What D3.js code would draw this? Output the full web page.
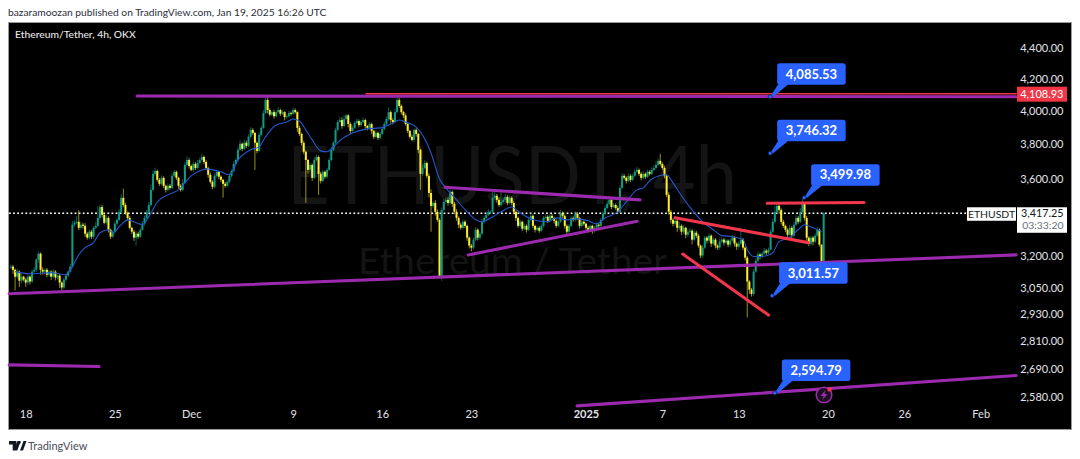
<!DOCTYPE html>
<html><head><meta charset="utf-8">
<script src="https://cdn.jsdelivr.net/npm/d3@7/dist/d3.min.js"></script>
<style>html,body{margin:0;padding:0;background:#fff}svg{display:block}text{font-family:Lato,sans-serif}</style>
</head><body><svg id="c" width="1080" height="459"></svg>
<script>
// ---- data ----
const firstBar = Date.UTC(2024,10,16,20);
const closes = [
3149,3134,3101,3125,3082,3101,3087,3073,3101,3078,3125,3134,3183,3212,3134,3125,3134,3110,3125,3101,3125,3097,3106,3073,
3050,3087,3106,3125,3149,3358,3368,3373,3342,3358,3352,3312,3292,3322,3297,3342,3352,3393,3450,3409,3368,3393,3332,3297,
3322,3363,3383,3425,3499,3461,3419,3393,3342,3322,3292,3312,3297,3332,3363,3393,3425,3461,3542,3630,3646,3597,3575,3608,
3564,3542,3564,3553,3619,3641,3608,3564,3542,3580,3680,3708,3674,3652,3685,3663,3691,3708,3725,3697,3663,3625,3586,3559,
3619,3641,3614,3597,3575,3564,3586,3619,3646,3685,3708,3766,3801,3772,3807,3789,3842,3883,3865,3807,3760,3853,3895,3985,
4065,4003,3975,3990,3965,3990,4003,3980,3990,3960,3965,3985,3980,4003,3990,3895,3859,3807,3755,3708,3652,3680,3608,3708,
3725,3630,3591,3641,3614,3652,3708,3766,3807,3883,3930,3942,3906,3948,3970,3918,3877,3895,3924,3936,3912,3930,3942,3906,
3895,3918,3877,3842,3865,3836,3859,3889,3918,3948,3990,3942,3930,3990,4065,4028,3990,3970,3918,3877,3842,3824,3883,3859,
3766,3630,3663,3691,3619,3525,3456,3472,3425,3383,3101,3435,3477,3488,3472,3531,3467,3425,3393,3358,3342,3373,3352,3292,
3252,3242,3282,3332,3292,3312,3373,3393,3409,3425,3425,3499,3510,3488,3461,3477,3488,3504,3472,3499,3472,3425,3393,3352,
3373,3337,3352,3332,3383,3404,3352,3332,3342,3327,3352,3393,3399,3378,3404,3393,3378,3352,3373,3419,3404,3352,3322,3352,
3393,3383,3414,3393,3352,3373,3363,3342,3332,3352,3327,3342,3358,3352,3383,3414,3445,3467,3488,3450,3461,3445,3425,3553,
3619,3608,3591,3619,3597,3619,3641,3652,3630,3608,3630,3614,3641,3630,3652,3663,3680,3703,3685,3663,3619,3515,3425,3383,
3363,3378,3342,3352,3322,3342,3307,3322,3327,3282,3317,3302,3252,3203,3242,3292,3277,3302,3262,3282,3252,3242,3272,3282,
3267,3277,3257,3277,3292,3262,3247,3262,3282,3242,3193,3078,3040,3020,3125,3178,3208,3198,3212,3227,3217,3232,3322,3373,
3425,3456,3435,3373,3352,3332,3307,3342,3302,3358,3393,3373,3425,3467,3393,3292,3262,3292,3272,3302,3332,3257,3144,3417.25];
const upperWicks = [
10,8,5,12,6,15,4,8,10,6,9,14,8,10,6,12,5,9,8,6,12,7,5,8,
6,10,9,6,14,20,12,30,60,16,10,14,8,12,9,10,20,60,14,12,10,16,8,6,
8,12,10,15,20,50,12,8,10,6,9,12,10,8,14,12,10,16,30,20,18,8,10,14,
9,6,14,10,16,10,8,6,10,20,16,20,12,8,14,10,18,12,20,8,10,6,12,8,
14,10,6,8,5,10,12,14,8,16,10,14,20,8,18,12,14,16,10,6,8,16,12,18,
17,14,10,8,14,10,18,8,12,6,10,14,8,16,10,6,12,8,10,8,6,12,8,16,
14,8,10,12,8,10,14,16,10,14,12,20,16,24,10,8,10,14,12,16,10,12,16,8,
6,12,8,6,14,8,12,10,16,14,30,10,12,20,30,14,10,8,12,8,6,14,8,10,
6,8,20,16,8,14,20,10,15,12,8,12,16,12,14,24,8,10,14,8,10,12,8,6,
6,8,10,14,8,10,14,10,12,16,8,32,20,10,14,70,12,16,10,12,8,10,6,8,
12,6,10,8,14,16,8,6,10,8,12,10,14,8,16,10,6,8,12,16,8,6,8,10,
12,8,14,10,6,10,8,6,10,8,6,10,12,8,10,14,12,16,20,8,10,8,12,14,
16,10,8,14,10,12,14,16,8,10,14,8,12,10,14,16,20,14,40,10,12,8,14,10,
8,14,10,20,8,14,6,12,14,8,16,10,8,6,14,10,8,12,6,10,8,6,12,10,
8,10,6,12,14,8,6,10,50,8,6,8,6,8,12,10,14,8,10,14,8,10,12,14,
30,20,10,8,10,6,8,14,10,16,14,10,20,33,8,10,6,10,8,12,14,6,0,5];
const lowerWicks = [
12,20,65,10,30,14,8,20,12,14,8,6,10,18,24,14,10,12,10,16,8,14,10,25,
20,8,10,6,8,5,10,8,12,10,14,16,10,8,12,10,6,8,10,14,8,10,14,12,
6,8,10,6,8,12,10,14,8,12,16,40,10,8,6,10,8,6,10,8,12,10,12,8,
12,14,8,10,6,8,12,16,10,8,6,10,14,8,10,12,6,8,10,14,12,16,10,14,
8,10,14,12,75,10,6,8,10,6,8,10,6,14,8,12,8,10,12,155,14,8,10,6,
8,20,12,10,14,8,6,14,8,20,10,8,12,6,10,24,12,16,14,236,20,12,18,6,
10,115,14,8,12,10,6,8,6,10,8,6,16,8,10,20,18,10,8,6,14,10,8,16,
14,8,18,14,8,12,10,6,8,6,10,20,14,8,6,12,14,16,10,12,10,8,14,16,
20,88,10,8,14,24,134,12,20,10,3,20,8,10,14,8,16,12,14,18,10,8,12,16,
14,18,8,6,14,10,6,8,10,6,12,8,10,14,10,8,6,10,12,8,12,14,16,10,
8,12,6,14,6,8,12,14,8,10,6,8,6,12,8,10,14,10,8,6,12,14,16,8,
6,10,8,12,14,8,10,12,14,8,16,10,6,10,8,6,8,6,8,12,6,10,12,6,
8,10,14,8,12,6,8,6,12,14,8,12,6,10,8,6,8,6,10,12,14,12,16,18,
14,10,20,12,16,10,18,12,8,24,8,12,10,12,14,8,14,10,16,8,14,12,10,8,
14,8,12,10,6,14,16,10,6,12,14,165,20,12,8,6,10,14,8,6,12,8,4,6,
8,10,20,14,10,12,18,8,14,8,6,12,6,10,14,16,12,10,18,8,6,10,0,0];
const maBars = [2,9,19,26,27,29,32,35,39,42,46,48,52,55,59,62,66,69,74,79,85,90,92,99,103,107,113,117,120,125,130,133,136,139,142,146,149,152,156,161,168,174,180,183,186,191,196,198,202,205,210,215,220,222,227,231,236,240,243,248,253,257,262,267,272,276,280,286,290,295,298,302,309,312,316,321,326,331,335,340,345,347,350,354,359,362,367,371,374,378,382];
const maValues = [3125,3115,3120,3110,3120,3149,3207,3242,3267,3317,3332,3317,3358,3383,3368,3358,3419,3477,3515,3542,3619,3652,3658,3641,3625,3708,3766,3783,3842,3912,3930,3948,3936,3883,3824,3760,3755,3783,3830,3865,3889,3895,3924,3942,3930,3900,3806,3748,3602,3553,3488,3425,3378,3373,3399,3425,3450,3419,3399,3378,3373,3393,3383,3388,3378,3363,3393,3425,3477,3542,3553,3602,3625,3580,3510,3435,3373,3332,3302,3297,3282,3232,3198,3198,3217,3272,3292,3332,3358,3342,3322];
const priceTicks = [4400,4200,4000,3800,3600,3200,3050,2930,2810,2690,2580];
const timeTickDates = [[2024,10,18],[2024,10,25],[2024,11,1],[2024,11,9],[2024,11,16],[2024,11,23],[2025,0,1],[2025,0,7],[2025,0,13],[2025,0,20],[2025,0,26],[2025,1,1]];
const timeTickLabels = ["18","25","Dec","9","16","23","2025","7","13","20","26","Feb"];
// trend lines: [bar, price, bar, price]
const purpleLines = [[59.5,4090,473.7,4085],[-0.8,3021,473.7,3206],[-0.8,2709,41.6,2702],[266.8,2544,473.7,2665],[204.6,3556,296.5,3488],[215.5,3206,295.1,3376]];
const redLines = [[313,3394,375.7,3267],[316.6,3210,357,2924],[356.4,3470,402,3474]];
const topRedLine = [167.4,4104,473.7,4104];
const calloutBars = [357.8,357.8,373.8,358.7,360];
const calloutPrices = [4085.53,3746.32,3499.98,3011.57,2594.79];
const lastPrice = 3417.25, alertPrice = 4108.93, countdown = "03:33:20";

// ---- scales ----
const barTime = n => new Date(firstBar + n*4*3600e3);
const x = d3.scaleUtc().domain([new Date(Date.UTC(2024,10,18)),new Date(Date.UTC(2025,1,1))]).range([25.7,980.7]);
const bx = n => x(barTime(n));
const y = d3.scaleLog().domain([4400,2580]).range([48.3,396.7]);

const svg = d3.select("#c");
svg.append("rect").attr("width",1080).attr("height",459).attr("fill","#fff");
svg.append("rect").attr("x",8.5).attr("y",22.5).attr("width",1063).attr("height",407).attr("fill","#000").attr("stroke","#9b9b9b").attr("stroke-width",1);

// header and footer
svg.append("text").attr("x",8).attr("y",16).attr("font-size",10.25).attr("fill","#2a2e39").text("bazaramoozan published on TradingView.com, Jan 19, 2025 16:26 UTC");
svg.append("text").attr("x",15).attr("y",38).attr("font-size",10.3).attr("font-weight",500).attr("fill","#e8e8e8").text("Ethereum/Tether, 4h, OKX");
svg.append("text").attr("x",28).attr("y",449.5).attr("font-size",11).attr("fill","#4a4e59").text("TradingView");
svg.append("path").attr("d","M9 441h7.4v9.6h-3.7v-6.1H9zM17.5 441l3.2 0 -3.4 9.6h-3.2zM23.5 441h3l-3.5 9.6h-3z").attr("fill","#131722");
svg.append("circle").attr("cx",19).attr("cy",442.6).attr("r",1.6).attr("fill","#131722");

// watermark
svg.append("text").attr("x",287).attr("y",204).attr("font-size",82).attr("fill","#141414").attr("textLength",450).attr("lengthAdjust","spacingAndGlyphs").text("ETHUSDT, 4h");
svg.append("text").attr("x",358).attr("y",274).attr("font-size",37).attr("fill","#141414").attr("textLength",309).attr("lengthAdjust","spacingAndGlyphs").text("Ethereum / Tether");

// last-price dotted line
svg.append("line").attr("x1",9).attr("x2",967).attr("y1",y(lastPrice)).attr("y2",y(lastPrice)).attr("stroke","#fff").attr("stroke-width",1.7).attr("stroke-dasharray","1.8 2.3");

// candles
const candles = closes.map((c,i)=>{const o=i?closes[i-1]:c;return {i,o,c,h:Math.max(o,c)+upperWicks[i],l:Math.min(o,c)-lowerWicks[i]};});
const col = d=>d.c>=d.o?"#0f9d88":"#ffee30";
const g = svg.append("g");
g.selectAll("line.w").data(candles).join("line").attr("class","w")
 .attr("x1",d=>bx(d.i)).attr("x2",d=>bx(d.i)).attr("y1",d=>y(d.h)).attr("y2",d=>y(d.l))
 .attr("stroke",col).attr("stroke-width",0.8).attr("stroke-opacity",0.75);
g.selectAll("rect.b").data(candles).join("rect").attr("class","b")
 .attr("x",d=>bx(d.i)-1).attr("width",2)
 .attr("y",d=>Math.min(y(d.o),y(d.c))).attr("height",d=>Math.max(0.8,Math.abs(y(d.o)-y(d.c))))
 .attr("fill",col);

// moving average
svg.append("path").datum(maBars.map((b,i)=>[b,maValues[i]]))
 .attr("d",d3.line().x(d=>bx(d[0])).y(d=>y(d[1])).curve(d3.curveMonotoneX))
 .attr("fill","none").attr("stroke","#2258cf").attr("stroke-width",1.1);

// trend lines
const drawLines=(arr,stroke,w)=>svg.append("g").selectAll("line").data(arr).join("line")
 .attr("x1",d=>bx(d[0])).attr("y1",d=>y(d[1])).attr("x2",d=>bx(d[2])).attr("y2",d=>y(d[3]))
 .attr("stroke",stroke).attr("stroke-width",w).attr("stroke-linecap","round");
drawLines(purpleLines,"#9c2aae",3.1);
drawLines(redLines,"#f2364c",3.1);
drawLines([topRedLine],"#f2364c",1.6);

// callouts
const fmt = d3.format(",.2f");
const co = svg.append("g").selectAll("g").data(calloutPrices).join("g")
 .attr("transform",(d,i)=>`translate(${bx(calloutBars[i])},${y(d)})`);
co.append("path").attr("d","M0 0L9 -14H20L3 0Z").attr("fill","#2962ff");
co.append("rect").attr("x",7).attr("y",-33.5).attr("width",68.5).attr("height",21.5).attr("rx",2.5).attr("fill","#2962ff");
co.append("circle").attr("r",2).attr("fill","#2962ff").attr("stroke","#111").attr("stroke-width",.6);
co.append("text").attr("x",41.3).attr("y",-18.2).attr("text-anchor","middle").attr("font-size",13).attr("font-weight",700).attr("fill","#fff").text(d=>fmt(d));

// axes
const xAxis = d3.axisBottom(x).tickValues(timeTickDates.map(d=>new Date(Date.UTC(d[0],d[1],d[2])))).tickFormat((d,i)=>timeTickLabels[i]).tickSize(0).tickPadding(0);
const xg = svg.append("g").attr("transform","translate(0,410)").call(xAxis);
xg.select(".domain").remove();
xg.selectAll("text").attr("font-size",11).attr("fill","#e0e3eb").attr("font-family","Lato,sans-serif").attr("font-weight",(d,i)=>timeTickLabels[i]==="2025"?700:400);
const yAxis = d3.axisLeft(y).tickValues(priceTicks).tickFormat(fmt).tickSize(0).tickPadding(0);
const yg = svg.append("g").attr("transform","translate(1063.5,0)").call(yAxis);
yg.select(".domain").remove();
yg.selectAll("text").attr("font-size",11).attr("fill","#e0e3eb").attr("font-family","Lato,sans-serif");

// price labels
const yA=y(alertPrice);
svg.append("rect").attr("x",1017).attr("y",yA-6.3).attr("width",50).attr("height",15).attr("fill","#f23645");
svg.append("text").attr("x",1063.5).attr("y",yA+5).attr("text-anchor","end").attr("font-size",11).attr("fill","#fff").text(fmt(alertPrice));
const yL=y(lastPrice);
svg.append("rect").attr("x",967).attr("y",yL-6).attr("width",49).attr("height",13.5).attr("fill","#fff");
svg.append("text").attr("x",991.5).attr("y",yL+4.3).attr("text-anchor","middle").attr("font-size",10.4).attr("fill","#131722").text("ETHUSDT");
svg.append("rect").attr("x",1017).attr("y",yL-6).attr("width",50).attr("height",25.5).attr("fill","#fff");
svg.append("text").attr("x",1063.5).attr("y",yL+3.6).attr("text-anchor","end").attr("font-size",10.8).attr("fill","#131722").text(fmt(lastPrice));
svg.append("text").attr("x",1063.5).attr("y",yL+16.2).attr("text-anchor","end").attr("font-size",10.4).attr("fill","#6a6d78").text(countdown);

// flash icon
const ic=svg.append("g").attr("transform","translate(824,395)");
ic.append("circle").attr("r",7.8).attr("fill","#1c1020").attr("stroke","#9c2aae").attr("stroke-width",1.5);
ic.append("path").attr("d","M1.5 -5L-3.5 1H-0.5L-1.5 5L3.5 -1H0.5Z").attr("fill","#9c2aae");
ic.append("circle").attr("cx",5.6).attr("cy",-5.6).attr("r",2.2).attr("fill","#f23645");
</script></body></html>
